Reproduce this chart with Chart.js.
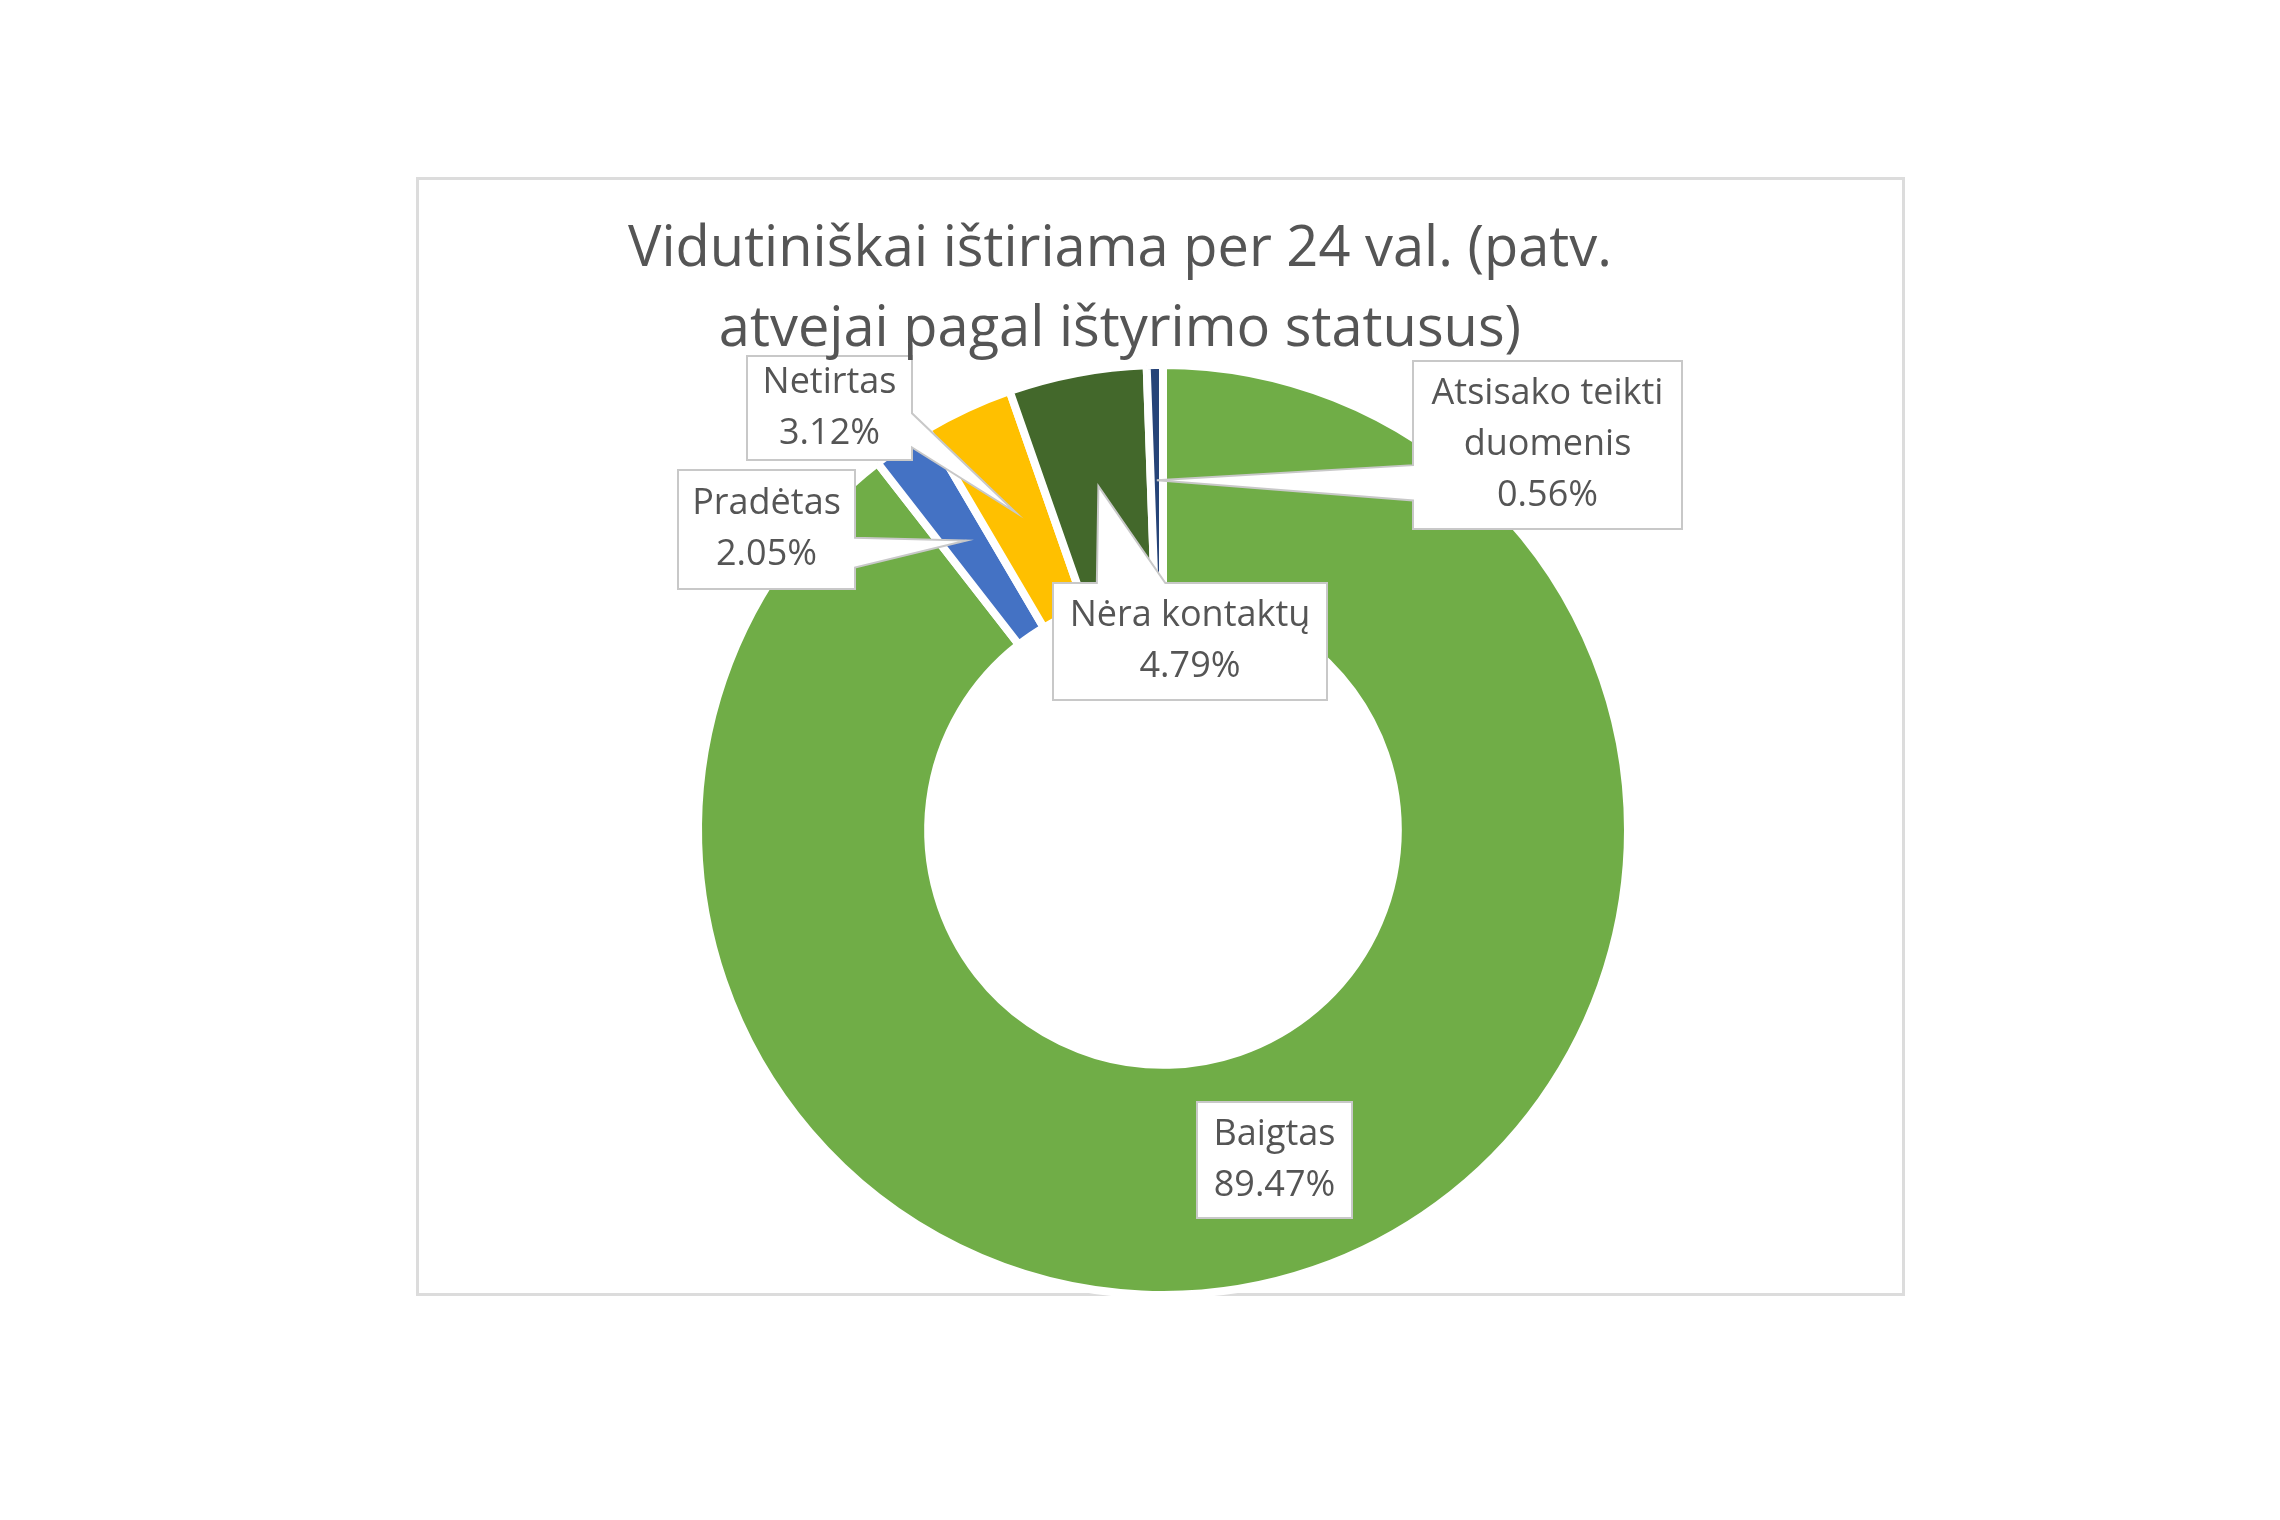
<!DOCTYPE html>
<html lang="lt">
<head>
<meta charset="utf-8">
<title>Vidutiniškai ištiriama per 24 val.</title>
<script src="https://cdn.jsdelivr.net/npm/chart.js@4.4.1/dist/chart.umd.min.js"></script>
<style>
  html, body { margin: 0; background: #fff; }
  .wrap { position: relative; width: 2280px; height: 1520px; }
  .frame {
    position: absolute; left: 416px; top: 177px;
    width: 1483px; height: 1113px;
    border: 3px solid #dcdcdc;
  }
  canvas { position: absolute; left: 0; top: 0; }
</style>
</head>
<body>
<div class="wrap">
  <div class="frame"></div>
  <canvas id="chartDonut" width="2280" height="1520"></canvas>
</div>
<script>
// Duomenys (procentai)
const categories = ["Baigtas", "Pradėtas", "Netirtas", "Nėra kontaktų", ["Atsisako teikti", "duomenis"]];
const shares = [89.47, 2.05, 3.12, 4.79, 0.56];
const sliceColors = ["#70ad47", "#4472c4", "#ffc000", "#43682b", "#264478"];
const titleLines = ["Vidutiniškai ištiriama per 24 val. (patv.", "atvejai pagal ištyrimo statusus)"];

const FONT = "'Open Sans', Lato, sans-serif";
const TEXT_COLOR = "#555555";

// Etikečių dėžutės: poslinkis nuo spurgos centro (px) ir iškyšos kraštas
const labelBoxes = [
  { x0: 34, x1: 189, y0: 272, y1: 388, side: null },
  { x0: -485, x1: -308, y0: -360, y1: -241, side: "right", f: [0.57, 0.82] },
  { x0: -416, x1: -251, y0: -474, y1: -370, side: "right", f: [0.55, 0.88] },
  { x0: -110, x1: 164, y0: -247, y1: -130, side: "top", f: [0.16, 0.41] },
  { x0: 250, x1: 519, y0: -469, y1: -301, side: "left", f: [0.62, 0.83] }
];

// Iškyšos (callout) su tekstu
const calloutPlugin = {
  id: "callouts",
  afterDatasetsDraw(chart) {
    const ctx = chart.ctx;
    const arcs = chart.getDatasetMeta(0).data;
    const cx = arcs[0].x, cy = arcs[0].y;

    arcs.forEach((arc, i) => {
      const b = labelBoxes[i];
      const x0 = cx + b.x0, x1 = cx + b.x1, y0 = cy + b.y0, y1 = cy + b.y1;
      const w = x1 - x0, h = y1 - y0;
      const tip = arc.tooltipPosition();

      const pts = [[x0, y0]];
      if (b.side === "top") pts.push([x0 + b.f[0] * w, y0], [tip.x, tip.y], [x0 + b.f[1] * w, y0]);
      pts.push([x1, y0]);
      if (b.side === "right") pts.push([x1, y0 + b.f[0] * h], [tip.x, tip.y], [x1, y0 + b.f[1] * h]);
      pts.push([x1, y1]);
      if (b.side === "bottom") pts.push([x0 + b.f[1] * w, y1], [tip.x, tip.y], [x0 + b.f[0] * w, y1]);
      pts.push([x0, y1]);
      if (b.side === "left") pts.push([x0, y0 + b.f[1] * h], [tip.x, tip.y], [x0, y0 + b.f[0] * h]);

      ctx.save();
      ctx.beginPath();
      pts.forEach((p, k) => (k ? ctx.lineTo(p[0], p[1]) : ctx.moveTo(p[0], p[1])));
      ctx.closePath();
      ctx.fillStyle = "#ffffff";
      ctx.fill();
      ctx.lineWidth = 2;
      ctx.strokeStyle = "#c8c8c8";
      ctx.lineJoin = "miter";
      ctx.stroke();

      const name = categories[i];
      const lines = (Array.isArray(name) ? name : [name]).concat(shares[i].toFixed(2) + "%");
      const lh = 51;
      const midY = (y0 + y1) / 2;
      ctx.fillStyle = TEXT_COLOR;
      ctx.font = "36px " + FONT;
      ctx.textAlign = "center";
      ctx.textBaseline = "middle";
      lines.forEach((t, k) => {
        ctx.fillText(t, (x0 + x1) / 2, midY + (k - (lines.length - 1) / 2) * lh);
      });
      ctx.restore();
    });
  },
  afterDraw(chart) {
    // Pavadinimas (šiek tiek pasislinkęs į kairę, kaip originale)
    const ctx = chart.ctx;
    const cx = chart.getDatasetMeta(0).data[0].x;
    ctx.save();
    ctx.fillStyle = TEXT_COLOR;
    ctx.font = "56px " + FONT;
    ctx.textAlign = "center";
    ctx.textBaseline = "middle";
    titleLines.forEach((t, k) => ctx.fillText(t, cx - 43, 250 + k * 80));
    ctx.restore();
  }
};

const ctxDonut = document.getElementById("chartDonut").getContext("2d");

new Chart(ctxDonut, {
  type: "doughnut",
  data: {
    labels: categories,
    datasets: [{
      data: shares,
      backgroundColor: sliceColors,
      borderColor: "#ffffff",
      borderWidth: 8,
      hoverOffset: 0
    }]
  },
  options: {
    responsive: false,
    animation: false,
    radius: 465,
    cutout: "50.5%",
    layout: { padding: { left: 46, right: 0, top: 140, bottom: 0 } },
    plugins: {
      legend: { display: false },
      tooltip: { enabled: false },
      title: { display: false }
    }
  },
  plugins: [calloutPlugin]
});
</script>
</body>
</html>
